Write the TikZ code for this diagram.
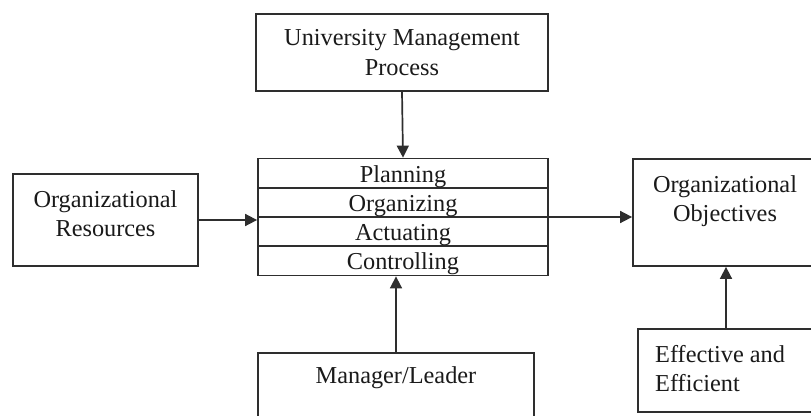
\documentclass[tikz,border=0pt]{standalone}
\usepackage{fontspec}
\setmainfont{Liberation Serif}
\usetikzlibrary{arrows.meta,calc}
\definecolor{linec}{HTML}{2E2E2E}
\definecolor{textc}{HTML}{1A1A1A}
\begin{document}
\begin{tikzpicture}[x=1pt,y=-1pt,
  box/.style={draw=linec,line width=1.8pt,rectangle,inner sep=0pt},
  txt/.style={anchor=base,inner sep=0pt,text=textc,font=\fontsize{24.3}{30}\selectfont},
  txtl/.style={anchor=base west,inner sep=0pt,text=textc,font=\fontsize{24.3}{30}\selectfont},
  conn/.style={draw=linec,line width=1.7pt,-{Triangle[length=12pt,width=12pt]}}]
\useasboundingbox (0,0) rectangle (811,415);
\clip (0,0) rectangle (811,415);
\fill[white] (0,0) rectangle (811,415);
% boxes
\node[box,minimum width=292pt,minimum height=77pt] (ump) at (402,52.5) {};
\node[box,minimum width=290pt,minimum height=117pt] (core) at (403,217) {};
\node[box,minimum width=185pt,minimum height=92pt] (res) at (105.5,220) {};
\node[box,minimum width=184pt,minimum height=107pt] (obj) at (725,212.5) {};
\node[box,minimum width=176pt,minimum height=83pt] (eff) at (726,370.5) {};
\node[box,minimum width=276pt,minimum height=87pt] (mgr) at (396,396.5) {};
% row dividers
\draw[linec,line width=1.8pt] (core.west |- 0,188) -- (core.east |- 0,188);
\draw[linec,line width=1.8pt] (core.west |- 0,217) -- (core.east |- 0,217);
\draw[linec,line width=1.8pt] (core.west |- 0,246) -- (core.east |- 0,246);
% texts
\node[txt] (t1) at (402,45) {University Management};
\node[txt] (t2) at (402,75) {Process};
\node[txt] (plan) at (403,182) {Planning};
\node[txt] (orgz) at (403,211) {Organizing};
\node[txt] (act) at (403,240) {Actuating};
\node[txt] (ctrl) at (403,269) {Controlling};
\node[txt] (r1) at (105.5,207) {Organizational};
\node[txt] (r2) at (105.5,236) {Resources};
\node[txt] (o1) at (725,192) {Organizational};
\node[txt] (o2) at (725,221) {Objectives};
\node[txtl] (e1) at (655,362) {Effective and};
\node[txtl] (e2) at (655,391) {Efficient};
\node[txt] (m1) at (396,383) {Manager/Leader};
% connectors
\draw[conn] (ump.south) -- (core.north);
\draw[conn] (res.east) -- (res.east -| core.west);
\draw[conn] (core.east) -- (core.east -| obj.west);
\draw[conn] (eff.north) -- (eff.north |- obj.south);
\draw[conn] (mgr.north) -- (mgr.north |- core.south);
\end{tikzpicture}
\end{document}
